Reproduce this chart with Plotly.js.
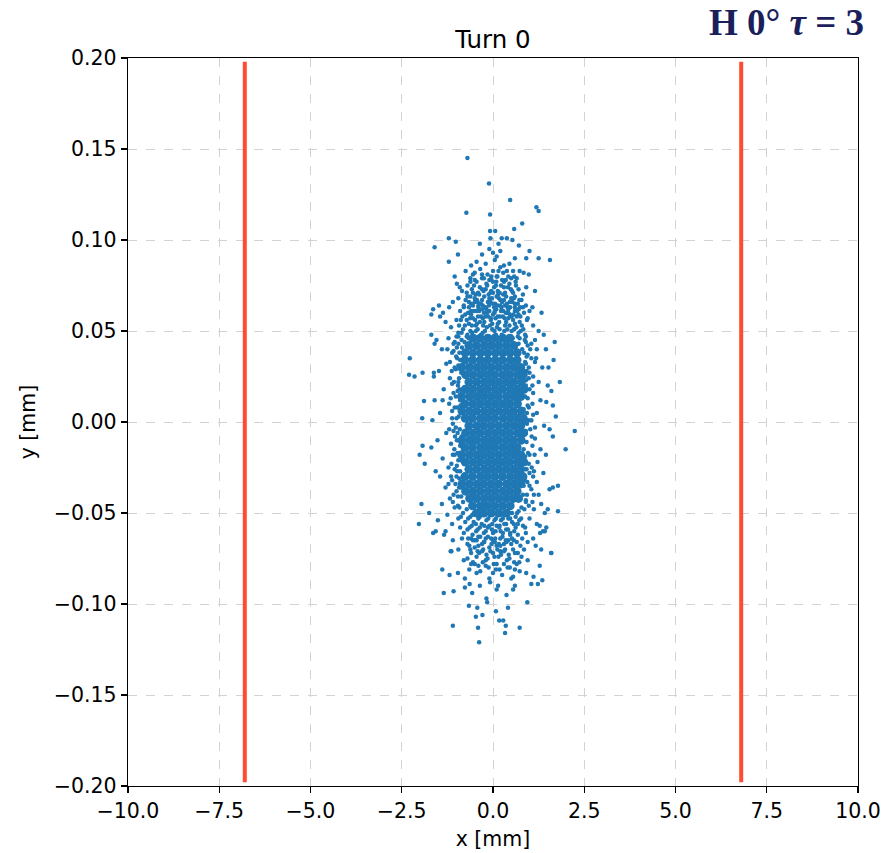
<!DOCTYPE html>
<html>
<head>
<meta charset="utf-8">
<script src="https://cdn.plot.ly/plotly-3.0.1.min.js"></script>
<style>html,body{margin:0;padding:0;background:#fff;}</style>
</head>
<body>
<div id="chart" style="width:887px;height:853px;"></div>
<script>
// ---- data (mm) ----
const chartTitle = "Turn 0";
const tagText = "H 0° <i>τ</i> = 3";
const xTicks = [-10, -7.5, -5, -2.5, 0, 2.5, 5, 7.5, 10];
const yTicks = [-0.2, -0.15, -0.1, -0.05, 0, 0.05, 0.1, 0.15, 0.2];
const apertureX = [-6.8, 6.8];
const apertureY = [-0.198, 0.198];

// dense core of the beam, rows of [y, [x...]]
const coreRows = [
[0.046, [-0.55,-0.35,-0.14,0.06,0.27,0.46]],
[0.042, [-0.66,-0.45,-0.24,-0.04,0.16,0.37,0.57]],
[0.038, [-0.76,-0.55,-0.34,-0.14,0.07,0.27,0.46,0.66]],
[0.034, [-0.77,-0.56,-0.35,-0.15,0.06,0.26,0.47,0.66]],
[0.030, [-0.86,-0.65,-0.44,-0.25,-0.05,0.16,0.37,0.57,0.76]],
[0.026, [-0.75,-0.55,-0.34,-0.14,0.05,0.27,0.46,0.67,0.83]],
[0.022, [-0.66,-0.45,-0.24,-0.04,0.16,0.36,0.56,0.77]],
[0.018, [-0.76,-0.56,-0.35,-0.15,0.06,0.26,0.47,0.66,0.85]],
[0.014, [-0.86,-0.64,-0.44,-0.25,-0.05,0.15,0.37,0.57,0.76]],
[0.010, [-0.77,-0.55,-0.35,-0.14,0.06,0.26,0.46,0.67]],
[0.006, [-0.85,-0.65,-0.45,-0.24,-0.04,0.16,0.36,0.56,0.77]],
[0.002, [-0.76,-0.56,-0.34,-0.15,0.05,0.27,0.47,0.66,0.83]],
[-0.002, [-0.66,-0.44,-0.25,-0.05,0.16,0.37,0.57,0.76]],
[-0.006, [-0.75,-0.55,-0.35,-0.14,0.06,0.26,0.46,0.67,0.84]],
[-0.010, [-0.85,-0.64,-0.45,-0.24,-0.04,0.15,0.36,0.56,0.77]],
[-0.014, [-0.77,-0.56,-0.34,-0.15,0.05,0.27,0.47,0.66]],
[-0.018, [-0.86,-0.65,-0.44,-0.25,-0.05,0.16,0.37,0.57,0.76]],
[-0.022, [-0.76,-0.55,-0.35,-0.14,0.06,0.26,0.46,0.67,0.84]],
[-0.026, [-0.66,-0.45,-0.24,-0.04,0.16,0.36,0.56,0.75]],
[-0.030, [-0.77,-0.56,-0.34,-0.15,0.05,0.26,0.47,0.66,0.82]],
[-0.034, [-0.85,-0.65,-0.44,-0.25,-0.05,0.15,0.37,0.57,0.76]],
[-0.038, [-0.75,-0.55,-0.35,-0.14,0.06,0.27,0.46,0.66]],
[-0.042, [-0.64,-0.45,-0.24,-0.04,0.16,0.36,0.56,0.70]],
[-0.046, [-0.56,-0.34,-0.15,0.05,0.26,0.47]],
[-0.050, [-0.44,-0.25,-0.05,0.16,0.37]]
];

// extra particles filling the shoulders of the core [x, y]
const fillPoints = [
[-0.86,0.049],[-0.77,0.053],[-0.67,0.046],[-0.57,0.049],[-0.47,0.053],[-0.38,0.046],[-0.27,0.053],[-0.17,0.047],[-0.08,0.053],[0.01,0.047],[0.11,0.052],[0.2,0.046],[0.31,0.050],[0.45,0.053],[0.54,0.046],[0.64,0.052],[0.73,0.046],[0.83,0.051],
[-0.72,0.056],[-0.6,0.059],[-0.49,0.056],[-0.38,0.061],[-0.28,0.057],[-0.16,0.060],[-0.06,0.057],[0.04,0.060],[0.13,0.058],[0.23,0.063],[0.32,0.057],[0.42,0.060],[0.51,0.058],[0.6,0.063],[0.7,0.059],
[-0.5,0.066],[-0.28,0.064],[-0.07,0.066],[0.14,0.070],[0.33,0.064],[0.53,0.066],[-0.66,0.063],
[-1.08,0.043],[-1.13,0.028],[-1.07,0.022],[-1.12,0.006],[-1.08,-0.005],[-1.1,-0.018],[-1.15,-0.030],[-1.08,-0.040],[-0.99,0.041],[-0.92,0.018],[-0.99,-0.024],[-0.87,-0.041],
[1.05,0.035],[1.08,0.020],[1.1,0.004],[1.06,-0.008],[1.14,-0.018],[1.06,-0.025],[1.12,-0.040],[0.98,-0.046],[0.95,0.042],[0.98,0.008],[0.9,0.032],[0.84,-0.035],
[-0.82,-0.050],[-0.68,-0.053],[-0.56,-0.051],[-0.47,-0.056],[-0.36,-0.052],[-0.24,-0.057],[-0.13,-0.053],[-0.02,-0.056],[0.08,-0.053],[0.18,-0.057],[0.27,-0.053],[0.36,-0.056],[0.47,-0.053],[0.57,-0.056],[0.66,-0.050],[0.77,-0.053],
[-0.4,-0.063],[-0.2,-0.064],[0.0,-0.065],[0.2,-0.064],[0.42,-0.065],[-0.6,-0.064]
];

// dense ring hugging the core [x, y]
const ringPoints = [
[-0.72,0.047],[-0.62,0.050],[-0.5,0.047],[-0.42,0.051],[-0.33,0.048],[-0.22,0.050],[-0.12,0.047],[-0.02,0.051],[0.08,0.048],[0.18,0.051],[0.29,0.047],[0.39,0.051],[0.5,0.047],[0.58,0.051],[0.68,0.047],[0.76,0.050],
[-0.78,0.044],[0.7,0.043],[-0.85,0.041],[0.8,0.040],
[-0.66,0.054],[-0.55,0.057],[-0.44,0.054],[-0.33,0.058],[-0.24,0.055],[-0.13,0.058],[-0.02,0.054],[0.07,0.057],[0.17,0.055],[0.27,0.058],[0.36,0.055],[0.46,0.059],[0.55,0.056],[0.65,0.058],[0.73,0.055],
[-0.6,0.061],[-0.4,0.063],[-0.18,0.062],[0.03,0.063],[0.22,0.061],[0.42,0.062],[0.6,0.061],[-0.84,0.058],[0.82,0.063],
[-0.92,0.038],[-0.87,0.027],[-0.96,0.020],[-0.89,0.009],[-1.0,0.002],[-0.91,-0.004],[-0.99,-0.010],[-0.88,-0.021],[-0.97,-0.017],[-0.9,-0.027],[-1.0,-0.030],[-0.88,-0.036],[-0.82,-0.044],[-0.93,-0.036],[-0.86,0.045],[-1.01,0.036],[-0.95,0.031],[-0.86,0.016],[-1.02,0.014],[-0.86,-0.008],[-1.04,-0.008],[-0.96,-0.046],
[0.85,0.038],[0.92,0.028],[0.86,0.019],[0.95,0.013],[0.84,0.007],[0.97,0.001],[0.9,-0.006],[0.84,-0.015],[0.96,-0.017],[0.88,-0.026],[0.94,-0.033],[0.82,-0.040],[0.9,-0.043],[0.78,-0.047],[0.95,0.037],[0.93,-0.001],[0.98,0.024],[0.87,0.045],[1.0,-0.028],[0.86,0.028],
[-0.72,-0.048],[-0.62,-0.052],[-0.52,-0.050],[-0.4,-0.053],[-0.3,-0.051],[-0.18,-0.054],[-0.08,-0.051],[0.04,-0.054],[0.12,-0.051],[0.22,-0.054],[0.3,-0.051],[0.42,-0.053],[0.52,-0.050],[0.62,-0.052],[0.7,-0.049],
[-0.58,-0.057],[-0.46,-0.060],[-0.36,-0.058],[-0.25,-0.061],[-0.14,-0.058],[-0.03,-0.059],[0.07,-0.060],[0.17,-0.058],[0.27,-0.061],[0.36,-0.059],[0.47,-0.061],[0.58,-0.060],[-0.7,-0.059],[0.68,-0.056],
[-0.62,0.069],[-0.52,0.075],[-0.41,0.071],[-0.2,0.073],[-0.11,0.064],[0.0,0.071],[0.09,0.077],[0.2,0.067],[0.28,0.070],[0.38,0.065],[0.49,0.073],[0.6,0.069],[0.72,0.067],[-0.3,0.081],[0.15,0.083],[0.38,0.083],[-0.55,0.081],[-0.42,0.066],[0.12,0.064],[-0.05,0.080],[0.58,0.080],[-0.75,0.067],
[-0.5,-0.065],[-0.3,-0.067],[-0.05,-0.064],[0.1,-0.068],[0.3,-0.067],[0.52,-0.064],[-0.65,-0.068],[-0.42,-0.071],[0.2,-0.071],[0.38,-0.076],[-0.2,-0.076],[0.08,-0.081],[-0.45,-0.083],[0.6,-0.081],[0.72,-0.077],[-0.6,-0.078]
];

// transition zone around the core [x, y]
const midPoints = [
[-0.95,0.047],[-0.82,0.051],[-0.7,0.048],[-0.58,0.053],[-0.47,0.050],[-0.36,0.055],[-0.28,0.049],[-0.17,0.052],[-0.06,0.056],[0.04,0.050],[0.13,0.054],[0.24,0.048],[0.33,0.053],[0.42,0.057],[0.51,0.050],[0.6,0.054],[0.7,0.049],[0.79,0.053],[0.88,0.048],
[-0.88,0.056],[-0.76,0.059],[-0.63,0.057],[-0.52,0.061],[-0.41,0.058],[-0.3,0.062],[-0.21,0.058],[-0.1,0.061],[0.0,0.059],[0.09,0.062],[0.19,0.058],[0.28,0.061],[0.38,0.060],[0.47,0.063],[0.56,0.059],[0.66,0.061],[0.75,0.058],[0.85,0.060],
[-0.8,0.063],[-0.66,0.066],[-0.55,0.064],[-0.44,0.067],[-0.33,0.065],[-0.24,0.069],[-0.14,0.066],[-0.03,0.068],[0.06,0.065],[0.16,0.068],[0.25,0.066],[0.36,0.069],[0.46,0.066],[0.57,0.068],[0.68,0.065],
[-0.72,0.071],[-0.58,0.073],[-0.48,0.070],[-0.36,0.074],[-0.26,0.072],[-0.16,0.075],[-0.07,0.071],[0.03,0.074],[0.13,0.072],[0.22,0.075],[0.33,0.071],[0.41,0.074],[0.52,0.072],[0.63,0.075],
[-0.5,0.078],[-0.3,0.079],[-0.1,0.078],[0.1,0.080],[0.3,0.077],[0.5,0.079],[-0.68,0.060],[0.74,0.063],[-0.93,0.053],[0.93,0.056],
[-0.95,0.043],[-1.08,0.039],[-0.9,0.034],[-1.02,0.029],[-0.93,0.024],[-1.12,0.021],[-0.97,0.017],[-0.9,0.012],[-1.05,0.008],[-0.94,0.003],[-1.1,-0.001],[-0.97,-0.006],[-0.9,-0.013],[-1.06,-0.015],[-0.95,-0.021],[-1.14,-0.023],[-0.92,-0.031],[-1.03,-0.034],[-0.96,-0.041],[-1.1,-0.044],[-0.92,-0.047],[-1.18,0.033],[-1.2,-0.004],[-1.22,-0.034],[-1.16,0.013],[-1.0,0.047],[-1.05,-0.026],
[0.9,0.044],[1.02,0.040],[0.88,0.033],[0.98,0.030],[1.1,0.025],[0.9,0.023],[1.0,0.018],[0.88,0.014],[1.08,0.010],[0.93,0.005],[0.86,0.000],[1.02,-0.004],[0.92,-0.011],[1.08,-0.013],[0.88,-0.019],[0.98,-0.023],[1.12,-0.027],[0.87,-0.032],[1.05,-0.037],[0.93,-0.040],[0.86,-0.048],[1.08,-0.044],[1.18,0.035],[1.15,-0.003],[1.2,-0.033],[1.15,0.045],
[-0.88,-0.052],[-0.76,-0.055],[-0.64,-0.058],[-0.53,-0.055],[-0.42,-0.059],[-0.31,-0.056],[-0.2,-0.060],[-0.1,-0.057],[0.0,-0.061],[0.1,-0.057],[0.21,-0.060],[0.31,-0.056],[0.41,-0.059],[0.52,-0.055],[0.62,-0.058],[0.72,-0.054],[0.82,-0.057],
[-0.8,-0.061],[-0.68,-0.064],[-0.56,-0.062],[-0.45,-0.065],[-0.35,-0.063],[-0.24,-0.066],[-0.14,-0.063],[-0.04,-0.067],[0.06,-0.064],[0.16,-0.067],[0.26,-0.063],[0.37,-0.066],[0.47,-0.062],[0.57,-0.065],[0.68,-0.062],[0.75,-0.068],
[-0.62,-0.070],[-0.5,-0.069],[-0.38,-0.072],[-0.27,-0.070],[-0.18,-0.073],[-0.07,-0.071],[0.04,-0.074],[0.12,-0.070],[0.22,-0.073],[0.33,-0.070],[0.43,-0.073],[0.55,-0.070],[0.68,-0.072],
[-0.55,-0.077],[-0.4,-0.079],[-0.28,-0.077],[-0.12,-0.080],[0.02,-0.078],[0.18,-0.081],[0.3,-0.078],[0.46,-0.080],[0.58,-0.077],[-0.7,-0.075],[0.85,-0.070],[-0.9,-0.058],[0.9,-0.061]
];

// speckled edge of the beam [x, y]
const edgePoints = [
[-0.45,0.088],[-0.2,0.087],[0.05,0.089],[0.3,0.086],[-0.6,0.086],[0.45,0.087],[0.1,0.091],[-0.3,0.092],[0.2,0.094],[-0.1,0.095],[0.0,0.093],
[-0.75,0.083],[-0.5,0.082],[-0.35,0.084],[-0.15,0.081],[0.0,0.083],[0.12,0.080],[0.28,0.082],[0.42,0.080],[0.55,0.083],[0.65,0.079],[-0.25,0.079],[-0.62,0.079],[0.2,0.085],[-0.05,0.078],[0.35,0.078],
[-0.85,0.072],[-0.7,0.075],[-0.55,0.071],[-0.45,0.077],[-0.3,0.073],[-0.18,0.076],[-0.05,0.072],[0.08,0.075],[0.18,0.071],[0.3,0.074],[0.45,0.076],[0.55,0.071],[0.7,0.073],[0.82,0.070],[-0.38,0.070],[0.0,0.077],[0.25,0.078],[-0.62,0.077],[0.62,0.077],[-0.12,0.070],
[-1.1,0.066],[-0.95,0.068],[-0.8,0.064],[-0.7,0.069],[-0.6,0.065],[-0.5,0.068],[-0.4,0.064],[-0.3,0.067],[-0.2,0.063],[-0.1,0.068],[0.0,0.065],[0.1,0.069],[0.2,0.064],[0.3,0.067],[0.4,0.063],[0.5,0.068],[0.6,0.065],[0.7,0.062],[0.78,0.067],[0.9,0.064],[1.0,0.061],[-0.45,0.061],[-0.25,0.060],[0.05,0.061],[0.35,0.060],[-0.9,0.061],
[-1.3,0.055],[-1.15,0.052],[-1.0,0.056],[-1.22,0.046],[-1.05,0.044],[-0.95,0.049],[-1.4,0.040],[-1.12,0.038],[-0.98,0.035],[-1.28,0.032],[-1.05,0.030],[-1.18,0.024],[-0.95,0.022],[-1.35,0.018],[-1.08,0.016],[-1.2,0.010],[-0.98,0.008],[-1.45,0.005],[-1.12,0.002],[-1.02,-0.003],[-1.28,-0.006],[-0.95,-0.010],[-1.15,-0.012],[-1.38,-0.020],[-1.05,-0.018],[-1.22,-0.025],[-0.98,-0.027],[-1.12,-0.032],[-1.3,-0.036],[-1.0,-0.038],[-1.18,-0.042],[-1.4,-0.045],[-1.05,-0.047],[-1.25,-0.051],[-0.95,-0.053],[-1.12,-0.056],[-1.3,-0.060],[-1.48,0.028],[-1.52,-0.010],[-1.45,-0.030],[-1.55,0.045],[-1.45,0.058],[-1.38,0.012],[-1.6,0.012],[-1.25,0.040],[-1.1,-0.065],
[0.95,0.057],[1.1,0.053],[1.25,0.050],[0.9,0.047],[1.05,0.043],[1.2,0.040],[0.92,0.036],[1.15,0.033],[1.35,0.030],[1.0,0.027],[1.25,0.022],[0.9,0.020],[1.1,0.016],[1.3,0.012],[0.95,0.009],[1.2,0.005],[1.05,0.001],[1.4,-0.002],[0.9,-0.005],[1.15,-0.009],[1.3,-0.015],[1.0,-0.018],[1.22,-0.022],[0.92,-0.026],[1.1,-0.030],[1.38,-0.028],[1.0,-0.035],[1.25,-0.040],[0.9,-0.044],[1.12,-0.048],[1.0,-0.053],[1.2,-0.056],[0.88,-0.058],[1.45,0.040],[1.5,0.020],[1.45,-0.018],[1.52,0.030],[1.1,-0.064],[1.42,-0.050],
[-0.85,-0.064],[-0.7,-0.067],[-0.55,-0.065],[-0.4,-0.068],[-0.25,-0.066],[-0.1,-0.069],[0.05,-0.066],[0.2,-0.068],[0.35,-0.065],[0.5,-0.067],[0.65,-0.066],[0.8,-0.064],[0.95,-0.066],[-0.95,-0.070],[-0.6,-0.072],[-0.45,-0.074],[-0.3,-0.071],[-0.15,-0.075],[0.0,-0.072],[0.15,-0.074],[0.3,-0.071],[0.45,-0.075],[0.6,-0.072],[0.78,-0.074],[-0.8,-0.076],[-0.5,-0.078],[-0.2,-0.079],[0.1,-0.078],[0.4,-0.080],[0.65,-0.078],[-0.35,-0.082],[0.0,-0.083],[0.25,-0.084],[-0.65,-0.081],[0.5,-0.086],[-0.1,-0.086],[0.95,-0.076]
];

// isolated particles far from the core [x, y]
const outerPoints = [
[-0.70,0.145],[-0.11,0.131],[0.47,0.122],[1.19,0.118],[1.25,0.116],[-0.73,0.115],[-0.08,0.114],[0.58,0.106],[0.80,0.109],[-0.08,0.105],[0.06,0.105],[-0.07,0.101],[-1.21,0.101],[-1.02,0.099],[-1.60,0.096],[0.24,0.101],[0.38,0.101],[0.53,0.100],[-0.36,0.098],[0.15,0.098],[0.71,0.097],[1.00,0.094],[1.25,0.090],[1.56,0.089],[-1.21,0.088],[-0.96,0.092],[0.91,0.090],[0.60,0.090],[-1.05,0.080],[-0.99,0.076],[-1.64,0.062],[-1.48,0.064],[-1.69,0.059],[0.98,0.081],[0.84,0.082],[0.73,0.083],[1.15,0.072],[0.91,0.074],[1.33,0.060],[1.08,0.063],[-1.20,0.063],[-0.91,0.074],[-1.37,0.060],[1.69,0.044],[1.39,0.048],[-1.69,0.048],[-1.60,0.043],[-2.28,0.035],
[-2.30,0.026],[-2.15,0.025],[-1.93,0.027],[-1.62,0.027],[-1.62,0.025],[-1.89,0.0115],[-1.94,0.002],[-1.66,0.001],[-1.93,-0.013],[-2.01,-0.018],[-1.69,-0.014],[-1.87,-0.023],[-1.57,-0.027],[-1.96,-0.045],[-1.75,-0.050],[-2.03,-0.056],[-1.64,-0.061],[-1.57,-0.060],[-1.51,-0.054],[-1.16,-0.071],[1.66,0.034],[1.83,0.022],[1.60,0.017],[1.46,0.011],[1.64,0.009],[1.72,0.003],[2.24,-0.005],[1.99,-0.015],[1.64,-0.008],[1.55,-0.004],[1.78,-0.035],[1.64,-0.036],[1.55,-0.037],[1.78,-0.049],[1.50,-0.048],[1.32,-0.045],[1.60,-0.072],[1.42,-0.060],[1.29,-0.061],
[-1.34,-0.062],[1.46,-0.058],[1.28,-0.057],[1.37,-0.060],[1.59,-0.072],[1.32,-0.070],[1.17,-0.068],[1.28,-0.079],[1.35,-0.087],[1.23,-0.089],[1.05,-0.089],[1.11,-0.085],[-1.39,-0.081],[-1.19,-0.084],[-1.35,-0.094],[-1.08,-0.093],[-0.57,-0.094],[-1.10,-0.112],[-0.66,-0.101],[-0.43,-0.102],[-0.47,-0.107],[-0.29,-0.106],[-0.18,-0.097],[-0.16,-0.099],[-0.41,-0.113],[-0.38,-0.121],[0.08,-0.104],[0.17,-0.109],[0.28,-0.109],[0.41,-0.102],[0.35,-0.112],[0.33,-0.116],[0.73,-0.113],[0.94,-0.099],[0.55,-0.092],[0.37,-0.095],[0.60,-0.090],[0.10,-0.092],[0.14,-0.090],[-0.36,-0.090],[-0.08,-0.088],[-0.77,-0.091],[-0.96,-0.083],[-0.77,-0.086],[-0.64,-0.089],[-1.14,-0.071],[0.73,-0.082],[0.55,-0.085],[0.91,-0.083]
];

// ---- build traces ----
const blue = "#1f77b4";
const coreX = [], coreY = [];
coreRows.forEach(r => r[1].forEach(x => { coreX.push(x); coreY.push(r[0]); }));
const smallPts = fillPoints.concat(ringPoints, midPoints, edgePoints, outerPoints);

const traces = [
  {type: "scatter", mode: "markers", x: coreX, y: coreY, hoverinfo: "skip",
   marker: {color: blue, size: 9}},
  {type: "scatter", mode: "markers", x: smallPts.map(p => p[0]), y: smallPts.map(p => p[1]),
   marker: {color: blue, size: 4.5}},
  {type: "scatter", mode: "lines", x: [apertureX[0], apertureX[0]], y: apertureY,
   line: {color: "#ff4b33", width: 4}},
  {type: "scatter", mode: "lines", x: [apertureX[1], apertureX[1]], y: apertureY,
   line: {color: "#ff4b33", width: 4}}
];

const fontFam = "DejaVu Sans, sans-serif";
const axisCommon = {
  showline: true, mirror: true, linecolor: "#000", linewidth: 1.3,
  ticks: "outside", ticklen: 6, tickwidth: 1.3, tickcolor: "#000",
  showgrid: true, gridcolor: "#d3d3d3", griddash: "dash", gridwidth: 1,
  zeroline: false, tickfont: {family: fontFam, size: 20.5, color: "#000"}
};

const layout = {
  width: 887, height: 853,
  margin: {l: 128, r: 29, t: 58, b: 67},
  paper_bgcolor: "#fff", plot_bgcolor: "#fff",
  showlegend: false,
  title: {text: chartTitle, x: 0.5, xref: "paper", y: 1, yref: "paper", yanchor: "bottom",
          pad: {b: 10}, font: {family: fontFam, size: 24.5, color: "#000"}},
  xaxis: Object.assign({}, axisCommon, {
    range: [-10, 10], tickvals: xTicks, tickformat: ".1f",
    title: {text: "x [mm]", standoff: 9, font: {family: fontFam, size: 20.5, color: "#000"}}
  }),
  yaxis: Object.assign({}, axisCommon, {
    range: [-0.2, 0.2], tickvals: yTicks, tickformat: ".2f",
    title: {text: "y [mm]", standoff: 12, font: {family: fontFam, size: 20.5, color: "#000"}}
  }),
  annotations: [{
    text: "<b>" + tagText + "</b>", xref: "paper", yref: "paper", x: 1.011, y: 1.079,
    xanchor: "right", yanchor: "top", showarrow: false,
    font: {family: "Liberation Serif, DejaVu Serif, serif", size: 37, color: "#1b1f5c"}
  }]
};

Plotly.newPlot("chart", traces, layout, {displayModeBar: false, staticPlot: true});
</script>
</body>
</html>
